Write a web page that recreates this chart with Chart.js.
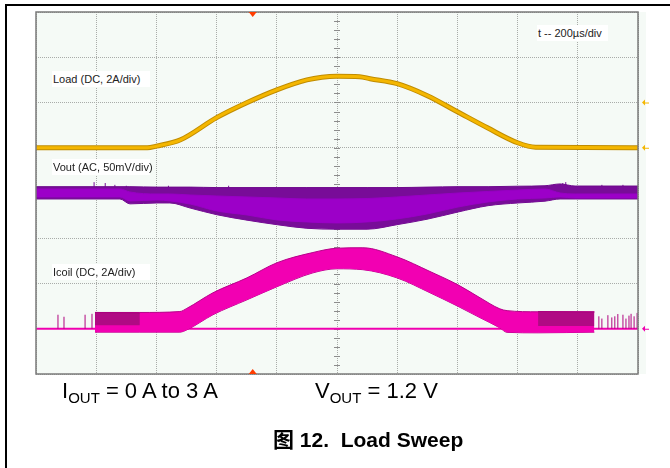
<!DOCTYPE html>
<html>
<head>
<meta charset="utf-8">
<script src="https://cdn.jsdelivr.net/npm/chart.js@4.4.1/dist/chart.umd.min.js"></script>
<style>
  body { margin: 0; width: 670px; height: 468px; background: #fff; position: relative; overflow: hidden;
         font-family: Arial, "Liberation Sans", "Noto Sans CJK SC", sans-serif; }
  .frame { position: absolute; left: 5px; top: 4px; right: -4px; bottom: -4px;
           border-top: 2px solid #000; border-left: 2px solid #000; }
  #wrap { position: absolute; left: 0; top: 0; width: 670px; height: 380px; }
  .lbl { position: absolute; background: #fff; font-size: 11px; line-height: 16px; color: #222;
         padding-left: 1px; white-space: nowrap; }
  .cond { position: absolute; font-size: 22px; line-height: 22px; color: #000; white-space: nowrap; }
  .cond sub { font-size: 15px; vertical-align: -5px; line-height: 0; }
  .cap { position: absolute; font-size: 21px; line-height: 21px; font-weight: bold; color: #000;
         white-space: pre; font-family: "Liberation Sans", Arial, "Noto Sans CJK SC", sans-serif; }
</style>
</head>
<body>
<div class="frame"></div>
<div id="wrap"><canvas id="scope" width="670" height="380"></canvas></div>
<div class="lbl" style="left:52px;top:71px;width:97px;">Load (DC, 2A/div)</div>
<div class="lbl" style="left:52px;top:159px;width:97px;">Vout (AC, 50mV/div)</div>
<div class="lbl" style="left:52px;top:264px;width:97px;">Icoil (DC, 2A/div)</div>
<div class="lbl" style="left:537px;top:25px;width:70px;">t -- 200µs/div</div>
<div class="cond" style="left:62px;top:380px;">I<sub>OUT</sub> = 0 A to 3 A</div>
<div class="cond" style="left:315px;top:380px;">V<sub>OUT</sub> = 1.2 V</div>
<div class="cap" style="left:273px;top:429px;">图 12.  Load Sweep</div>
<script>
// time axis in µs, 200 µs/div
const triggerT = 720;

// Load current (A), 2 A/div, zero on div 5
const loadT = [0, 370, 400, 480, 600, 700, 800, 900, 950, 1000, 1075, 1110, 1200, 1300, 1400, 1500, 1600, 1660, 2000];
const loadA = [0, 0, 0.07, 0.35, 1.33, 1.99, 2.56, 3.0, 3.12, 3.16, 3.14, 3.05, 2.83, 2.30, 1.59, 0.88, 0.22, 0.02, 0];

// Vout ripple (mV, AC), 50 mV/div, zero on div 4
const voutT = [0, 279, 312, 402, 445, 512, 601, 701, 801, 900, 1000, 1100, 1199, 1299, 1402, 1502, 1601, 1691, 1741, 1791, 2000];
const voutTop = [7, 7, 7, 6.5, 6.5, 6.5, 6, 6, 6, 6, 6, 6, 6, 6.5, 7, 7, 7.5, 8, 10, 7.7, 7.7];
const voutBot = [-6.6, -6.6, -12, -11, -11, -16.6, -24, -30, -35, -39, -40, -40, -35, -29, -21, -14, -11, -9, -6.6, -6.6, -6.6];
const voutInTop = [4.4, 4.4, 1.1, -1.1, -1.1, -2.2, -3.3, -4.4, -5.5, -6.6, -6.6, -6.1, -4.4, -2.2, 0, 1.7, 3.3, 4.4, 0, -1.1, -1.1];
const voutInBot = [-4.4, -4.4, -8.8, -7.7, -8.8, -12.2, -19.9, -24.3, -29.8, -32, -33.1, -32, -28.7, -23.2, -15.5, -9.9, -6.6, -5.5, -4.4, -5.5, -5.5];
const voutSpikeT = [193, 230, 262, 300, 440, 640, 1750, 1760, 1880, 1950];
const voutSpikeMv = [12, 11, 9, 8, 8, 8, 11, 12, 9, 9];

// Icoil (A), 2 A/div, zero on div 1
const icoilT = [196, 345, 478, 501, 588, 701, 801, 920, 1000, 1086, 1199, 1309, 1402, 1475, 1541, 1565, 1668, 1855];
const icoilTop = [0.72, 0.72, 0.76, 0.90, 1.59, 2.25, 2.92, 3.37, 3.56, 3.58, 3.18, 2.53, 1.94, 1.37, 0.88, 0.80, 0.75, 0.75];
const icoilBot = [-0.15, -0.15, -0.15, -0.05, 0.62, 1.28, 1.86, 2.47, 2.65, 2.61, 2.25, 1.59, 0.99, 0.49, 0.04, -0.16, -0.18, -0.15];
const icoilZoneLT = [196, 345];
const icoilZoneLA = [0.72, 0.70];
const icoilZoneRT = [1668, 1855];
const icoilZoneRA = [0.76, 0.74];
const icoilSpikeT = [73, 93, 163, 186, 1870, 1880, 1900, 1913, 1923, 1933, 1950, 1960, 1970, 1977, 1987, 1997];
const icoilSpikeA = [0.62, 0.53, 0.62, 0.66, 0.55, 0.45, 0.60, 0.50, 0.55, 0.65, 0.62, 0.45, 0.58, 0.66, 0.55, 0.70];

const loadDiv = (a) => 5 + a / 2;
const voutDiv = (mv) => 4 + mv / 50;
const icoilDiv = (a) => 1 + a / 2;

const pts = (ts, vs, f) => ts.map((t, i) => ({ x: t, y: f(vs[i]) }));
const spikes = (ts, vs, f) => ts.flatMap((t, i) => [{ x: t, y: f(0) }, { x: t, y: f(vs[i]) }, { x: t, y: null }]);

const line = (data, extra) => Object.assign({
  data: data, borderWidth: 1, pointRadius: 0, fill: false, cubicInterpolationMode: "monotone"
}, extra);

const datasets = [
  line(pts(voutT, voutBot, voutDiv), { borderColor: "#6e0a8c", order: 12 }),
  line(pts(voutT, voutTop, voutDiv), { borderColor: "#6e0a8c", backgroundColor: "#780c98", fill: "-1", order: 11 }),
  line(pts(voutT, voutInBot, voutDiv), { borderColor: "#9800c4", order: 10 }),
  line(pts(voutT, voutInTop, voutDiv), { borderColor: "#9800c4", backgroundColor: "#9c00c8", fill: "-1", order: 9 }),
  line(spikes(voutSpikeT, voutSpikeMv, voutDiv), { borderColor: "#760a96", order: 13, cubicInterpolationMode: "default" }),
  line(pts([0, 2000], [0, 0], icoilDiv), { borderColor: "#f000b0", borderWidth: 2, order: 20 }),
  line(pts(icoilZoneLT, icoilZoneLA, icoilDiv), { borderColor: "#a8007c", backgroundColor: "#b00a84", fill: { value: 1.08 }, order: 14 }),
  line(pts(icoilZoneRT, icoilZoneRA, icoilDiv), { borderColor: "#a8007c", backgroundColor: "#b00a84", fill: { value: 1.06 }, order: 14 }),
  line(spikes(icoilSpikeT, icoilSpikeA, icoilDiv), { borderColor: "#b0047f", order: 18, cubicInterpolationMode: "default" }),
  line(pts(icoilT, icoilBot, icoilDiv), { borderColor: "#b8008a", order: 17 }),
  line(pts(icoilT, icoilTop, icoilDiv), { borderColor: "#b8008a", backgroundColor: "#f200b2", fill: "-1", order: 16 }),
  line(pts(loadT, loadA, loadDiv), { borderColor: "#c08c00", borderWidth: 5, order: 2 }),
  line(pts(loadT, loadA, loadDiv), { borderColor: "#f4b600", borderWidth: 3, order: 1 })
];

const scopeDecor = {
  id: "scopeDecor",
  beforeDraw(chart) {
    const { ctx, chartArea: a } = chart;
    ctx.save();
    ctx.fillStyle = "#f5faf6";
    ctx.fillRect(a.left, a.top, a.right - a.left + 8, a.bottom - a.top);
    ctx.restore();
  },
  beforeDatasetsDraw(chart) {
    const { ctx, scales: { x, y } } = chart;
    const cx = x.getPixelForValue(1000);
    const cy = y.getPixelForValue(4);
    ctx.save();
    ctx.strokeStyle = "#8c8c8c";
    ctx.lineWidth = 1;
    ctx.beginPath();
    for (let d = 0.2; d < 8; d += 0.2) {
      const py = Math.round(y.getPixelForValue(d)) + 0.5;
      ctx.moveTo(cx - 3, py); ctx.lineTo(cx + 3, py);
    }
    for (let t = 40; t < 2000; t += 40) {
      const px = Math.round(x.getPixelForValue(t)) + 0.5;
      ctx.moveTo(px, cy - 3); ctx.lineTo(px, cy + 3);
    }
    ctx.stroke();
    ctx.restore();
  },
  afterDatasetsDraw(chart) {
    const { ctx, chartArea: a, scales: { x, y } } = chart;
    ctx.save();
    ctx.strokeStyle = "#7a7a7a";
    ctx.lineWidth = 1.5;
    ctx.strokeRect(a.left, a.top, a.right - a.left, a.bottom - a.top);
    // trigger position markers
    const tx = x.getPixelForValue(triggerT);
    ctx.fillStyle = "#ff3c00";
    ctx.beginPath();
    ctx.moveTo(tx - 4, a.top); ctx.lineTo(tx + 4, a.top); ctx.lineTo(tx, a.top + 5); ctx.closePath();
    ctx.moveTo(tx - 4, a.bottom); ctx.lineTo(tx + 4, a.bottom); ctx.lineTo(tx, a.bottom - 5); ctx.closePath();
    ctx.fill();
    // channel reference markers
    [[6, "#f4b600"], [5, "#f4b600"], [1, "#f000b0"]].forEach(([d, c]) => {
      const py = y.getPixelForValue(d);
      const px = a.right + 4;
      ctx.fillStyle = c;
      ctx.strokeStyle = c;
      ctx.lineWidth = 1;
      ctx.beginPath();
      ctx.moveTo(px, py); ctx.lineTo(px + 3, py - 3); ctx.lineTo(px + 3, py + 3); ctx.closePath();
      ctx.fill();
      ctx.beginPath();
      ctx.moveTo(px + 3, py + 0.5); ctx.lineTo(px + 7, py + 0.5);
      ctx.stroke();
    });
    ctx.restore();
  }
};

new Chart("scope", {
  type: "line",
  data: { datasets: datasets },
  options: {
    responsive: false,
    animation: false,
    events: [],
    layout: { padding: { left: 36, top: 12, right: 32, bottom: 6 } },
    plugins: { legend: { display: false }, tooltip: { enabled: false } },
    scales: {
      x: {
        type: "linear", min: 0, max: 2000,
        ticks: { display: false, stepSize: 200 },
        grid: { color: "#a9aca9", lineWidth: 1, drawTicks: false },
        border: { display: false, dash: [1, 1] }
      },
      y: {
        type: "linear", min: 0, max: 8,
        ticks: { display: false, stepSize: 1 },
        grid: { color: "#a9aca9", lineWidth: 1, drawTicks: false },
        border: { display: false, dash: [1, 1] }
      }
    }
  },
  plugins: [scopeDecor]
});
</script>
</body>
</html>
